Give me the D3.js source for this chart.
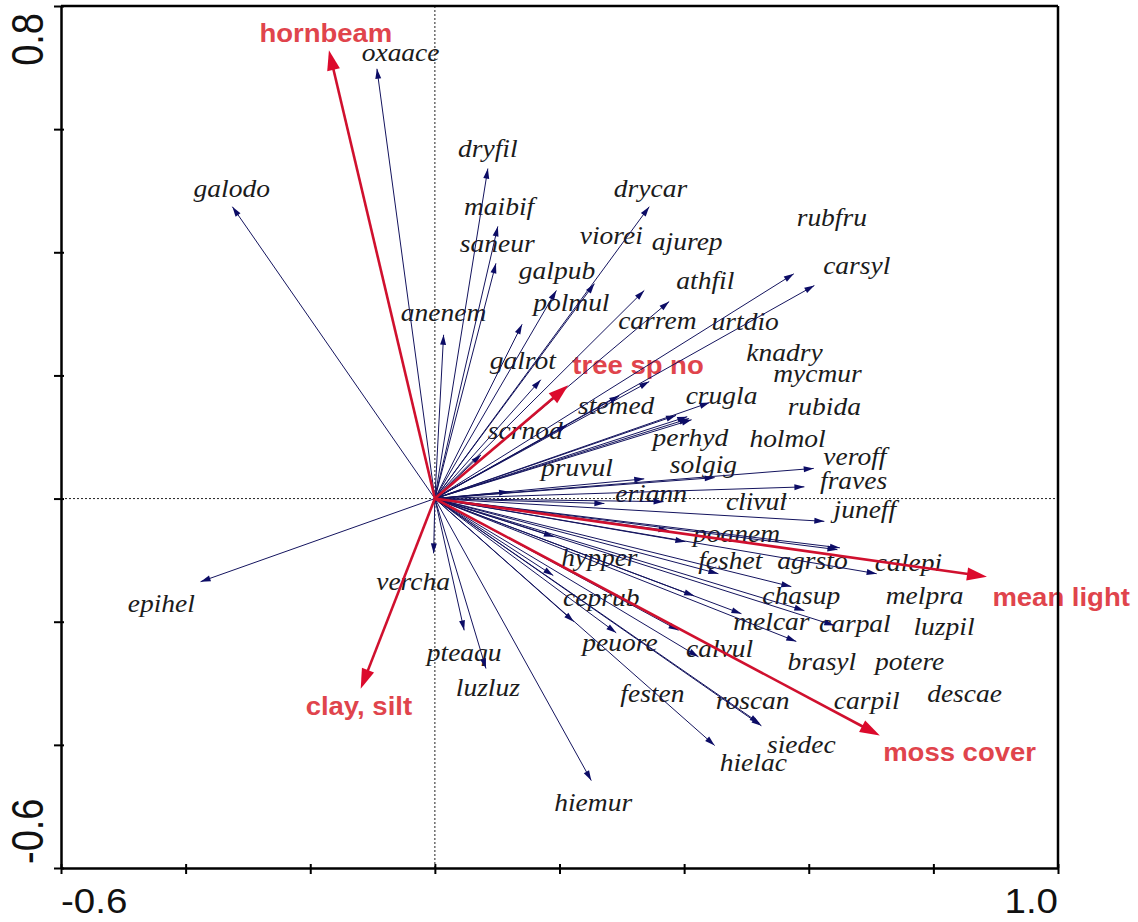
<!DOCTYPE html>
<html>
<head>
<meta charset="utf-8">
<script src="https://d3js.org/d3.v7.min.js"></script>
<style>
  body { margin: 0; background: #fff; }
  svg { display: block; }
</style>
</head>
<body>
<svg id="chart" width="1138" height="922"></svg>
<script>
// species arrows (tip) and where their labels sit, in axis units
var speciesNames = ['oxaace','galodo','dryfil','maibif','saneur','drycar','viorei','ajurep','galpub','polmul',
  'athfil','rubfru','carsyl','anenem','galrot','carrem','urtdio','knadry','mycmur','stemed',
  'crugla','rubida','scrnod','perhyd','holmol','pruvul','solgig','veroff','fraves','eriann',
  'clivul','juneff','poanem','hypper','feshet','agrsto','calepi','vercha','chasup','melpra',
  'epihel','ceprub','melcar','carpal','luzpil','peuore','calvul','brasyl','potere','pteaqu',
  'luzluz','festen','roscan','carpil','descae','siedec','hielac','hiemur'];
var speciesX = [-0.093,-0.325,0.085,0.101,0.098,0.344,0.256,0.336,0.195,0.140,
  0.376,0.576,0.609,0.014,0.170,0.344,0.296,0.387,0.408,0.212,
  0.441,0.405,0.074,0.336,0.412,0.119,0.449,0.608,0.593,0.272,
  0.367,0.625,0.402,0.191,0.455,0.650,0.709,-0.002,0.572,0.375,
  -0.376,0.190,0.492,0.641,0.593,0.223,0.423,0.580,0.416,0.047,
  0.082,0.291,0.524,0.391,0.646,0.521,0.449,0.251];
var speciesY = [0.698,0.474,0.536,0.442,0.382,0.474,0.349,0.338,0.338,0.283,
  0.320,0.365,0.346,0.266,0.193,0.190,0.167,0.135,0.130,0.119,
  0.156,0.133,0.071,0.032,0.128,0.011,0.034,0.049,0.019,-0.008,
  -0.005,-0.037,-0.070,-0.062,-0.122,-0.080,-0.122,-0.089,-0.143,-0.052,
  -0.135,-0.125,-0.187,-0.206,-0.182,-0.200,-0.257,-0.232,-0.158,-0.214,
  -0.276,-0.218,-0.369,-0.214,-0.083,-0.365,-0.401,-0.458];
var speciesLabelX = [-0.055,-0.326,0.085,0.103,0.100,0.346,0.283,0.405,0.196,0.219,
  0.434,0.637,0.677,0.014,0.141,0.357,0.498,0.561,0.614,0.291,
  0.460,0.625,0.145,0.410,0.566,0.228,0.431,0.674,0.672,0.347,
  0.516,0.690,0.484,0.264,0.474,0.606,0.760,-0.035,0.588,0.786,
  -0.439,0.267,0.540,0.674,0.817,0.297,0.457,0.621,0.762,0.047,
  0.085,0.349,0.510,0.693,0.850,0.588,0.511,0.254];
var speciesLabelY = [0.711,0.490,0.555,0.460,0.401,0.490,0.414,0.403,0.357,0.304,
  0.341,0.443,0.365,0.289,0.211,0.276,0.273,0.224,0.190,0.138,
  0.154,0.135,0.097,0.086,0.084,0.037,0.041,0.054,0.015,-0.005,
  -0.019,-0.032,-0.070,-0.109,-0.114,-0.115,-0.117,-0.149,-0.171,-0.171,
  -0.184,-0.175,-0.214,-0.216,-0.221,-0.248,-0.257,-0.279,-0.279,-0.263,
  -0.321,-0.330,-0.341,-0.341,-0.330,-0.414,-0.443,-0.507];

// environmental variables
var envNames = ['hornbeam','tree sp no','mean light','moss cover','clay, silt'];
var envX = [-0.170,0.214,0.886,0.714,-0.119];
var envY = [0.728,0.184,-0.127,-0.385,-0.309];
var envLabelX = [-0.175,0.326,1.005,0.842,-0.122];
var envLabelY = [0.742,0.203,-0.175,-0.427,-0.352];

var xTicks = [-0.6,-0.4,-0.2,0,0.2,0.4,0.6,0.8,1.0];
var yTicks = [-0.6,-0.4,-0.2,0,0.2,0.4,0.6,0.8];
var xTickLabels = [{v:-0.6, t:'-0.6', anchor:'start'}, {v:1.0, t:'1.0', anchor:'end'}];
var yTickLabels = [{v:-0.6, t:'-0.6', anchor:'start'}, {v:0.8, t:'0.8', anchor:'end'}];

var L = 61, R = 1058, T = 6, B = 868;
var x = d3.scaleLinear().domain([-0.6, 1.0]).range([L, R]);
var y = d3.scaleLinear().domain([-0.6, 0.8]).range([B, T]);
var stretch = 1.1;   // the original's lettering is a little wide

var svg = d3.select('#chart');
svg.append('rect').attr('width', 1138).attr('height', 922).attr('fill', '#fff');

// zero lines
svg.append('line').attr('x1', x(0)).attr('x2', x(0)).attr('y1', T).attr('y2', B)
  .attr('stroke', '#222').attr('stroke-width', 1).attr('stroke-dasharray', '2,2');
svg.append('line').attr('x1', L).attr('x2', R).attr('y1', y(0)).attr('y2', y(0))
  .attr('stroke', '#222').attr('stroke-width', 1).attr('stroke-dasharray', '2,2');

function headPath(x0, y0, x1, y1, len, wid){
  var a = Math.atan2(y1 - y0, x1 - x0);
  var bx = x1 - len * Math.cos(a), by = y1 - len * Math.sin(a);
  var px = Math.sin(a) * wid / 2, py = -Math.cos(a) * wid / 2;
  return 'M' + x1 + ',' + y1 + 'L' + (bx + px) + ',' + (by + py) + 'L' + (bx - px) + ',' + (by - py) + 'Z';
}

function addLabel(g, lx, ly, text, cls){
  g.append('text')
   .attr('class', cls)
   .attr('transform', 'translate(' + lx + ',' + ly + ') scale(' + stretch + ',1)')
   .attr('text-anchor', 'middle')
   .text(text);
}

// labels first, the arrows are drawn over them like in the original
var labels = svg.append('g');
speciesNames.forEach(function(n, i){
  addLabel(labels, x(speciesLabelX[i]), y(speciesLabelY[i]), n, 'sp');
});
envNames.forEach(function(n, i){
  addLabel(labels, x(envLabelX[i]), y(envLabelY[i]), n, 'env');
});
labels.selectAll('text.sp')
  .attr('font-family', '"Liberation Serif", "Times New Roman", serif')
  .attr('font-style', 'italic').attr('font-size', 25).attr('fill', '#1b1b1b');
labels.selectAll('text.env')
  .attr('font-family', '"Liberation Sans", Arial, sans-serif')
  .attr('font-weight', 'bold').attr('font-size', 25).attr('fill', '#e0444c');

// species arrows
var spG = svg.append('g');
speciesNames.forEach(function(n, i){
  var x1 = x(speciesX[i]), y1 = y(speciesY[i]);
  spG.append('line').attr('x1', x(0)).attr('y1', y(0)).attr('x2', x1).attr('y2', y1)
    .attr('stroke', '#14145e').attr('stroke-width', 1);
  spG.append('path').attr('d', headPath(x(0), y(0), x1, y1, 10, 6)).attr('fill', '#0c0c66');
});

// environmental arrows
var envG = svg.append('g');
envNames.forEach(function(n, i){
  var x1 = x(envX[i]), y1 = y(envY[i]);
  var a = Math.atan2(y1 - y(0), x1 - x(0));
  envG.append('line').attr('x1', x(0)).attr('y1', y(0))
    .attr('x2', x1 - 12 * Math.cos(a)).attr('y2', y1 - 12 * Math.sin(a))
    .attr('stroke', '#d0102e').attr('stroke-width', 2.6);
  envG.append('path').attr('d', headPath(x(0), y(0), x1, y1, 20, 13)).attr('fill', '#dc0a2c');
});

// frame and axes
svg.append('line').attr('x1', L).attr('x2', R).attr('y1', T).attr('y2', T).attr('stroke', '#000').attr('stroke-width', 2.5);
svg.append('line').attr('x1', R).attr('x2', R).attr('y1', T).attr('y2', B).attr('stroke', '#000').attr('stroke-width', 2.5);

var xAxis = svg.append('g').attr('transform', 'translate(0,' + B + ')')
  .call(d3.axisBottom(x).tickValues(xTicks).tickSizeInner(6).tickSizeOuter(0).tickFormat(''));
var yAxis = svg.append('g').attr('transform', 'translate(' + L + ',0)')
  .call(d3.axisLeft(y).tickValues(yTicks).tickSizeInner(7).tickSizeOuter(0).tickFormat(''));
[xAxis, yAxis].forEach(function(ax){
  ax.select('.domain').attr('stroke', '#000').attr('stroke-width', 2.5);
  ax.selectAll('.tick line').attr('stroke', '#000').attr('stroke-width', 2);
});
xAxis.selectAll('.tick line').attr('y1', -4);
yAxis.selectAll('.tick line').attr('x1', 3);

// end labels of the axes
xTickLabels.forEach(function(d){
  svg.append('text')
    .attr('transform', 'translate(' + x(d.v) + ',913) scale(' + stretch + ',1)')
    .attr('text-anchor', d.anchor)
    .attr('font-family', '"Liberation Sans", Arial, sans-serif')
    .attr('font-size', 35).attr('fill', '#111')
    .text(d.t);
});
yTickLabels.forEach(function(d){
  var yy = d.v === yTicks[0] ? B - 4 : T + 7;
  svg.append('text')
    .attr('transform', 'translate(43,' + yy + ') scale(1.15,1) rotate(-90)')
    .attr('text-anchor', d.anchor)
    .attr('font-family', '"Liberation Sans", Arial, sans-serif')
    .attr('font-size', 38).attr('fill', '#111')
    .text(d.t);
});
</script>
</body>
</html>
